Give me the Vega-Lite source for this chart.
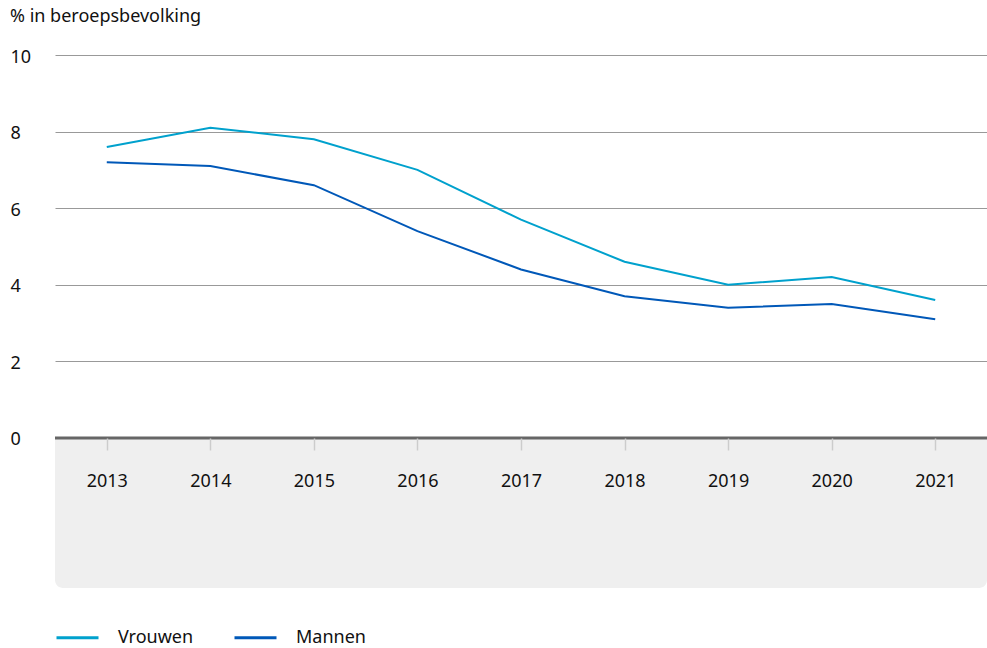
{
  "$schema": "https://vega.github.io/schema/vega-lite/v6.json",
  "width": 932,
  "height": 533,
  "padding": {"left": 10, "top": 8, "right": 0, "bottom": 0},
  "background": "white",
  "config": {
    "font": "Noto Sans",
    "view": {"stroke": null}
  },
  "title": {
    "text": "% in beroepsbevolking",
    "anchor": "start",
    "fontSize": 18,
    "fontWeight": "normal",
    "color": "#111",
    "offset": 22
  },
  "data": {
    "values": [
      {"jaar": 2013, "geslacht": "Vrouwen", "waarde": 7.6},
      {"jaar": 2014, "geslacht": "Vrouwen", "waarde": 8.1},
      {"jaar": 2015, "geslacht": "Vrouwen", "waarde": 7.8},
      {"jaar": 2016, "geslacht": "Vrouwen", "waarde": 7.0},
      {"jaar": 2017, "geslacht": "Vrouwen", "waarde": 5.7},
      {"jaar": 2018, "geslacht": "Vrouwen", "waarde": 4.6},
      {"jaar": 2019, "geslacht": "Vrouwen", "waarde": 4.0},
      {"jaar": 2020, "geslacht": "Vrouwen", "waarde": 4.2},
      {"jaar": 2021, "geslacht": "Vrouwen", "waarde": 3.6},
      {"jaar": 2013, "geslacht": "Mannen", "waarde": 7.2},
      {"jaar": 2014, "geslacht": "Mannen", "waarde": 7.1},
      {"jaar": 2015, "geslacht": "Mannen", "waarde": 6.6},
      {"jaar": 2016, "geslacht": "Mannen", "waarde": 5.4},
      {"jaar": 2017, "geslacht": "Mannen", "waarde": 4.4},
      {"jaar": 2018, "geslacht": "Mannen", "waarde": 3.7},
      {"jaar": 2019, "geslacht": "Mannen", "waarde": 3.4},
      {"jaar": 2020, "geslacht": "Mannen", "waarde": 3.5},
      {"jaar": 2021, "geslacht": "Mannen", "waarde": 3.1}
    ]
  },
  "layer": [
    {
      "data": {"values": [{"vlak": "achtergrond"}]},
      "mark": {"type": "rect", "color": "#efefef", "cornerRadiusBottomLeft": 8, "cornerRadiusBottomRight": 8},
      "encoding": {
        "y": {"datum": 0, "type": "quantitative"},
        "y2": {"datum": -3.92}
      }
    },
    {
      "data": {"values": [{"vlak": "nullijn"}]},
      "mark": {"type": "rule", "color": "#666", "strokeWidth": 3},
      "encoding": {
        "y": {"datum": 0, "type": "quantitative"}
      }
    },
    {
      "mark": {"type": "line", "strokeWidth": 2},
      "encoding": {
        "x": {
          "field": "jaar",
          "type": "quantitative",
          "scale": {"domain": [2012.5, 2021.5], "nice": false, "zero": false},
          "axis": {
            "title": null,
            "values": [2013, 2014, 2015, 2016, 2017, 2018, 2019, 2020, 2021],
            "format": "d",
            "orient": "bottom",
            "offset": -150,
            "domain": false,
            "grid": false,
            "ticks": true,
            "tickSize": 12,
            "tickColor": "#cccccc",
            "tickWidth": 1.5,
            "labelFontSize": 18,
            "labelColor": "#111",
            "labelPadding": 22,
            "zindex": 1
          }
        },
        "y": {
          "field": "waarde",
          "type": "quantitative",
          "scale": {"domain": [-3.92, 10], "nice": false, "zero": false},
          "axis": {
            "title": null,
            "values": [0, 2, 4, 6, 8, 10],
            "domain": false,
            "ticks": false,
            "grid": true,
            "gridColor": "#999999",
            "gridWidth": 1,
            "labelAlign": "left",
            "labelPadding": 45,
            "labelOffset": 2,
            "labelFontSize": 18,
            "labelColor": "#111"
          }
        },
        "color": {
          "field": "geslacht",
          "type": "nominal",
          "scale": {"domain": ["Vrouwen", "Mannen"], "range": ["#00a1cd", "#0058b8"]},
          "legend": {
            "title": null,
            "orient": "bottom",
            "direction": "horizontal",
            "symbolType": "stroke",
            "symbolSize": 1764,
            "symbolStrokeWidth": 3,
            "labelFontSize": 18,
            "labelColor": "#111",
            "labelOffset": 18,
            "columnPadding": 34,
            "offset": 27
          }
        }
      }
    }
  ]
}
